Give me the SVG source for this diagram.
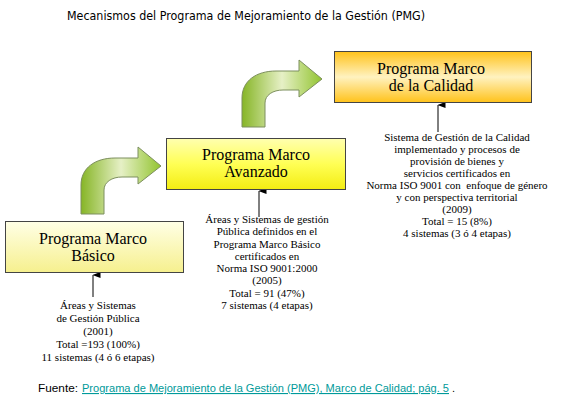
<svg xmlns="http://www.w3.org/2000/svg" width="570" height="400" viewBox="0 0 570 400">
<defs>
<linearGradient id="gBasico" x1="0" y1="0" x2="0" y2="1">
<stop offset="0" stop-color="#ffffe6"/><stop offset="1" stop-color="#f6f08e"/>
</linearGradient>
<linearGradient id="gAvanz" x1="0" y1="0" x2="0" y2="1">
<stop offset="0" stop-color="#ffffb0"/><stop offset="0.5" stop-color="#ffff55"/><stop offset="1" stop-color="#f3ed12"/>
</linearGradient>
<linearGradient id="gCal" x1="0" y1="0" x2="0" y2="1">
<stop offset="0" stop-color="#ffc21a"/><stop offset="0.5" stop-color="#fff2c0"/><stop offset="1" stop-color="#ffc21a"/>
</linearGradient>
<linearGradient id="gArrow" x1="0" y1="0" x2="1" y2="0">
<stop offset="0" stop-color="#86b526"/><stop offset="0.5" stop-color="#e6f0c6"/><stop offset="1" stop-color="#92c430"/>
</linearGradient>
<marker id="ah" viewBox="0 0 6 8" refX="3" refY="0.5" markerWidth="6" markerHeight="8" markerUnits="userSpaceOnUse" orient="auto-start-reverse">
<path d="M0,8 L3,0 L6,8 Z" fill="#000"/>
</marker>
<path id="bend" d="M0,0 L0,-29 C0,-46 14,-56 34,-56 L57,-56 L57,-67 L80,-48 L57,-30 L57,-37 L41,-37 C31,-37 23,-32 23,-24 L23,0 Z"/>
</defs>
<style>
.box{stroke:#444;stroke-width:1}
.nt{font-family:"Liberation Serif","Times New Roman",serif;font-size:16px;fill:#000;text-anchor:middle}
.dt{font-family:"Liberation Serif","Times New Roman",serif;font-size:11px;fill:#000;text-anchor:middle;white-space:pre}
.bend{fill:url(#gArrow);stroke:#7d8f5e;stroke-width:1}
.lead{stroke:#000;stroke-width:1;fill:none;marker-end:url(#ah)}
.sans{font-family:"DejaVu Sans",Verdana,sans-serif}
.foot{font-family:"Liberation Sans",Arial,sans-serif;font-size:11px}
</style>
<text class="sans" x="67" y="20" font-size="12" textLength="358" lengthAdjust="spacingAndGlyphs" fill="#000">Mecanismos del Programa de Mejoramiento de la Gestión (PMG)</text>

<g id="connectors">
<use href="#bend" class="bend" x="81" y="214"/>
<use href="#bend" class="bend" x="242" y="127"/>
<line class="lead" x1="93" y1="297" x2="93" y2="275"/>
<line class="lead" x1="259" y1="217" x2="259" y2="191"/>
<line class="lead" x1="438" y1="132" x2="438" y2="105"/>
</g>

<g id="basico">
<rect class="box" x="5.5" y="221.5" width="178" height="51" fill="url(#gBasico)"/>
<text class="nt" x="93" y="244">Programa Marco</text>
<text class="nt" x="93" y="261">Básico</text>
</g>
<g id="basico-desc">
<text class="dt" x="98" y="309">Áreas y Sistemas</text>
<text class="dt" x="98" y="322">de Gestión Pública</text>
<text class="dt" x="98" y="335">(2001)</text>
<text class="dt" x="98" y="348">Total =193 (100%)</text>
<text class="dt" x="98" y="361">11 sistemas (4 ó 6 etapas)</text>
</g>

<g id="avanzado">
<rect class="box" x="166.5" y="138.5" width="179" height="51" fill="url(#gAvanz)"/>
<text class="nt" x="256" y="160">Programa Marco</text>
<text class="nt" x="256" y="177">Avanzado</text>
</g>
<g id="avanzado-desc">
<text class="dt" x="267" y="223">Áreas y Sistemas de gestión</text>
<text class="dt" x="267" y="235">Pública definidos en el</text>
<text class="dt" x="267" y="248">Programa Marco Básico</text>
<text class="dt" x="267" y="260">certificados en</text>
<text class="dt" x="267" y="272">Norma ISO 9001:2000</text>
<text class="dt" x="267" y="284">(2005)</text>
<text class="dt" x="267" y="297">Total = 91 (47%)</text>
<text class="dt" x="267" y="309">7 sistemas (4 etapas)</text>
</g>

<g id="calidad">
<rect class="box" x="334.5" y="51.5" width="197" height="51" fill="url(#gCal)"/>
<text class="nt" x="431" y="74">Programa Marco</text>
<text class="nt" x="431" y="91">de la Calidad</text>
</g>
<g id="calidad-desc">
<text class="dt" x="457" y="141">Sistema de Gestión de la Calidad</text>
<text class="dt" x="457" y="153">implementado y procesos de</text>
<text class="dt" x="457" y="165">provisión de bienes y</text>
<text class="dt" x="457" y="177">servicios certificados en</text>
<text class="dt" x="457" y="189">Norma ISO 9001 con  enfoque de género</text>
<text class="dt" x="457" y="201">y con perspectiva territorial</text>
<text class="dt" x="457" y="213">(2009)</text>
<text class="dt" x="457" y="225">Total = 15 (8%)</text>
<text class="dt" x="457" y="237">4 sistemas (3 ó 4 etapas)</text>
</g>

<text class="foot" x="38" y="392" textLength="40" lengthAdjust="spacingAndGlyphs" fill="#000">Fuente:</text>
<text class="foot" x="82" y="392" textLength="367" lengthAdjust="spacingAndGlyphs" fill="#009a9a" text-decoration="underline">Programa de Mejoramiento de la Gestión (PMG), Marco de Calidad; pág. 5</text>
<text class="foot" x="452" y="392" fill="#000">.</text>
</svg>
